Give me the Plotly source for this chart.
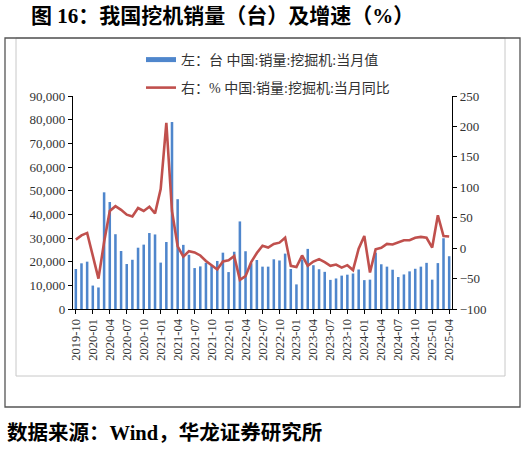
import plotly.graph_objects as go

months = [f"{y}-{m:02d}" for y in range(2019, 2026) for m in range(1, 13)]
months = months[months.index("2019-10"):months.index("2025-04") + 1]

sales = [16900, 19300, 20000, 9900, 9100, 49300, 45200, 31600, 24500, 19000,
         20800, 25900, 27200, 32100, 31500, 19600, 28300, 79000, 46400, 27100,
         22900, 17300, 18000, 19500, 18300, 20300, 23800, 15600, 24200, 37000,
         24400, 19300, 20700, 17900, 17900, 21000, 20500, 23400, 16900, 10400,
         21000, 25400, 18500, 16800, 15700, 12300, 12900, 14100, 14500, 15000,
         16700, 12200, 12400, 23800, 18900, 17900, 16600, 13500, 14600, 15900,
         17000, 17900, 19500, 12400, 19400, 29900, 22300]

yoy = [14, 21, 25, -14, -50, 10, 61, 69, 63, 55,
       52, 66, 61, 68, 57, 97, 206, 61, 3, -14,
       -5, -7, -12, -21, -28, -35, -22, -20, -13, -52,
       -46, -23, -8, 4, 1, 7, 9, 17, -29, -31,
       -12, -29, -22, -18, -23, -29, -27, -32, -28, -36,
       -1, 20, -40, -2, 0.5, 7, 6, 10, 13, 13,
       17, 18.5, 17, 1, 54, 20, 19]

tick_labels = months[::3]

bar_name = "左：台 中国:销量:挖掘机:当月值"
line_name = "右：% 中国:销量:挖掘机:当月同比"

serif = "Liberation Serif, Times New Roman, Noto Sans CJK SC"

fig = go.Figure()
fig.add_trace(go.Bar(x=months, y=sales, marker=dict(color="#4F86CC", line_width=0),
                     showlegend=False, yaxis="y"))
fig.add_trace(go.Scatter(x=months, y=yoy, mode="lines", name=line_name,
                         line=dict(color="#C0504D", width=2.6), yaxis="y2", legend="legend2"))
# legend swatch for the bars (wide flat bar like the original)
fig.add_trace(go.Scatter(x=[None], y=[None], mode="lines", name=bar_name,
                         line=dict(color="#4F86CC", width=5), legend="legend"))

W, H, L, B = 379, 213, 73, 140


def px(x):
    return (x - L) / W


def py(y):
    return (449 - B - y) / H


fig.update_layout(
    width=521, height=449,
    margin=dict(l=L, r=521 - L - W, t=449 - B - H, b=B),
    paper_bgcolor="white", plot_bgcolor="white",
    bargap=0.55,
    font=dict(family=serif, size=13, color="#333"),
    xaxis=dict(type="category", tickmode="array", tickvals=tick_labels, ticktext=tick_labels,
               tickangle=-90, showline=True, linecolor="black", linewidth=1.2,
               ticks="outside", ticklen=4, tickcolor="black", showgrid=False,
               tickfont=dict(size=12.5, family=serif, color="#333")),
    yaxis=dict(range=[0, 90000], dtick=10000, tickformat=",", showline=True,
               linecolor="black", linewidth=1.2, ticks="outside", ticklen=4,
               tickcolor="black", showgrid=False, zeroline=False,
               tickfont=dict(size=13, family=serif, color="#333")),
    yaxis2=dict(range=[-100, 250], dtick=50, overlaying="y", side="right",
                showline=True, linecolor="black", linewidth=1.2, ticks="outside",
                ticklen=4, tickcolor="black", showgrid=False, zeroline=False,
                tickfont=dict(size=13, family=serif, color="#333")),
    legend=dict(x=px(141), y=py(60), xanchor="left", yanchor="middle",
                bgcolor="rgba(0,0,0,0)", font=dict(size=14, family=serif, color="#333"),
                itemwidth=30),
    legend2=dict(x=px(141), y=py(88), xanchor="left", yanchor="middle",
                 bgcolor="rgba(0,0,0,0)", font=dict(size=14, family=serif, color="#333"),
                 itemwidth=30),
    shapes=[
        dict(type="rect", xref="paper", yref="paper", x0=px(16), x1=px(505),
             y0=py(376), y1=py(38), line=dict(color="#C8C8C8", width=1)),
        dict(type="rect", xref="paper", yref="paper", x0=px(5), x1=px(520),
             y0=py(407), y1=py(38), line=dict(color="#555", width=1.3)),
    ],
    annotations=[
        dict(text="<b>图 16：我国挖机销量（台）及增速（%）</b>", xref="paper", yref="paper",
             x=px(29), y=py(16), xanchor="left", yanchor="middle", showarrow=False,
             font=dict(size=21, family="Liberation Serif, Noto Sans CJK SC", color="black")),
        dict(text="<b>数据来源：Wind，华龙证券研究所</b>", xref="paper", yref="paper",
             x=px(5), y=py(432), xanchor="left", yanchor="middle", showarrow=False,
             font=dict(size=20.5, family="Liberation Serif, Noto Sans CJK SC", color="black")),
    ],
)

fig.write_html("out.html", config={"displayModeBar": False},
               post_script="document.body.style.margin='0';")
